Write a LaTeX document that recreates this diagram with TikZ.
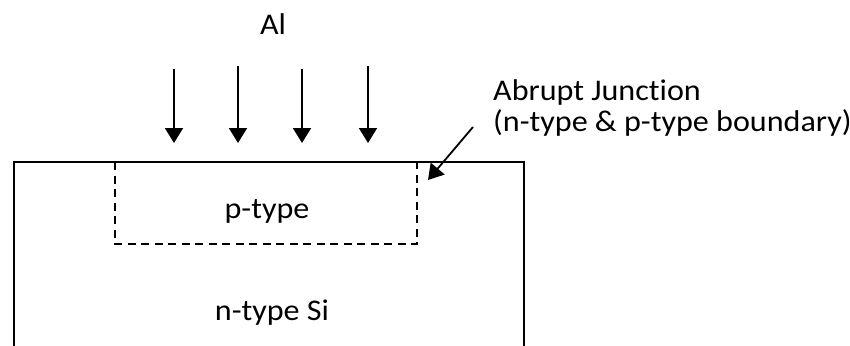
\documentclass[tikz,border=0pt]{standalone}
\usepackage{fontspec}
\setmainfont{Carlito}[Ligatures={NoCommon}, FakeStretch=1.07]
\usetikzlibrary{arrows.meta}
\tikzset{
  label text/.style={inner sep=0pt, font=\fontsize{30}{31}\selectfont},
  solid edge/.style={line width=1.8pt},
  junction edge/.style={line width=1.8pt, dash pattern=on 8pt off 5.5pt},
  flux/.style={line width=1.8pt, -{Triangle[width=18pt,length=15pt]}},
}
\begin{document}
\begin{tikzpicture}[x=1pt,y=-1pt]
  \useasboundingbox (0,0) rectangle (850,345);
  % silicon substrate, open at the bottom
  \draw[solid edge] (14,350) -- (14,162) -- (524,162) -- (524,350);
  % implanted p region
  \draw[junction edge] (115,162) -- (115,244) -- (417,244) -- (417,162);
  % labels
  \node[label text, anchor=base] (al) at (273,35) {Al};
  \node[label text, anchor=base] (ptype) at (267,218) {p-type};
  \node[label text, anchor=base] (ntype) at (272,320) {n-type Si};
  \node[label text, anchor=base west] (junc1) at (493,100) {Abrupt Junction};
  \node[label text, anchor=base west] (junc2) at (493,131) {(n-type \& p-type boundary)};
  % incoming aluminium
  \foreach \i/\x/\t in {1/174/69,2/238/66,3/302/69,4/368/66} {
    \coordinate (s\i) at (\x,\t);
    \coordinate (e\i) at (\x,143);
    \draw[flux] (s\i) -- (e\i);
  }
  % pointer to the junction
  \coordinate (jfrom) at (473,127);
  \coordinate (jto) at (428,180);
  \draw[flux] (jfrom) -- (jto);
\end{tikzpicture}
\end{document}
